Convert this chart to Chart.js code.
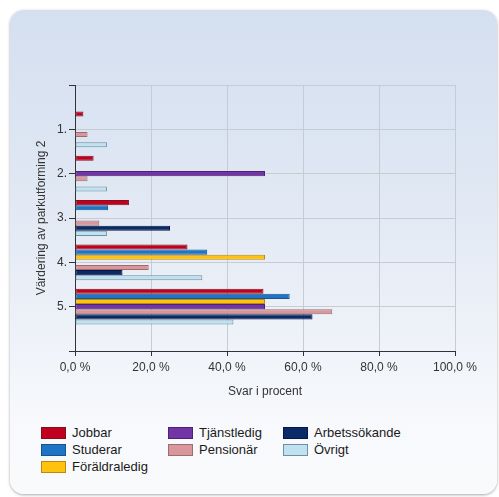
<!DOCTYPE html>
<html><head><meta charset="utf-8">
<script src="https://cdn.jsdelivr.net/npm/chart.js@4"></script>
<style>
html,body{margin:0;padding:0;background:#fff;width:499px;height:497px;overflow:hidden;font-family:"Liberation Sans",Arial,sans-serif;}
#panel{position:absolute;left:10px;top:10px;width:487px;height:484px;border-radius:14px;background:linear-gradient(to bottom,#d4dff0 0%,#dfe7f3 35%,#edf1f8 65%,#f7f9fc 85%,#f9fafc 100%);box-shadow:0 1px 3px rgba(0,0,0,0.35);}
#wrap{position:absolute;left:10px;top:10px;width:487px;height:400px;}
.li{position:absolute;font-size:13px;color:#1a1a1a;white-space:nowrap;line-height:16px;}
.box{position:absolute;width:25px;height:12px;box-sizing:border-box;border:1px solid;}
</style>
</head><body>
<div id="panel"></div>
<div id="wrap"><canvas id="c" width="487" height="400"></canvas></div>
<div id="legend"></div>
<script>
// ---- data ----
const categories = ['1.', '2.', '3.', '4.', '5.'];
const seriesNames = ['Jobbar', 'Studerar', 'Föräldraledig', 'Tjänstledig', 'Pensionär', 'Arbetssökande', 'Övrigt'];
const jobbar        = [2.2, 4.9, 14.2, 29.6, 49.6];
const studerar      = [0, 0, 8.7, 34.8, 56.5];
const foraldraledig = [0, 0, 0, 50.0, 50.0];
const tjanstledig   = [0, 50.0, 0, 0, 50.0];
const pensionar     = [3.3, 3.3, 6.4, 19.4, 67.7];
const arbetssokande = [0, 0, 25.0, 12.5, 62.5];
const ovrigt        = [8.4, 8.4, 8.4, 33.5, 41.7];
const xTicks = [0, 20, 40, 60, 80, 100];

const seriesValues = [jobbar, studerar, foraldraledig, tjanstledig, pensionar, arbetssokande, ovrigt];
const fills   = ['#c0001e', '#1f74c6', '#ffc20e', '#7135a6', '#d9979b', '#0b2a68', '#bfe1f0'];
const borders = ['#80101c', '#17558f', '#b88a10', '#4d2275', '#9c6c70', '#06183f', '#6f8fa2'];

const labels = ['', ...categories, ''];
const pad = arr => [null, ...arr, null];

const gridColor = '#c6ccd5';
const axisColor = '#333';
const font = {family: '"Liberation Sans", Arial, sans-serif', size: 12};

const chart = new Chart(document.getElementById('c'), {
  type: 'bar',
  data: {
    labels,
    datasets: seriesNames.map((n, i) => ({
      label: n,
      data: pad(seriesValues[i]),
      backgroundColor: fills[i],
      borderColor: borders[i],
      borderWidth: 1,
      borderSkipped: false,
      categoryPercentage: 0.81,
      barPercentage: 1.0
    }))
  },
  options: {
    indexAxis: 'y',
    responsive: false,
    animation: false,
    layout: {padding: {left: 24, top: 75, right: 42, bottom: 0}},
    plugins: {legend: {display: false}, tooltip: {enabled: false}},
    scales: {
      x: {
        min: 0, max: 100,
        afterBuildTicks: s => { s.ticks = xTicks.map(v => ({value: v})); },
        ticks: {font, color: axisColor, padding: 4, maxRotation: 0,
          callback: v => v.toFixed(1).replace('.', ',') + ' %'},
        grid: {color: gridColor, tickColor: axisColor, tickLength: 5},
        border: {color: axisColor},
        title: {display: true, text: 'Svar i procent', font, color: axisColor, padding: {top: 0, bottom: 11}},
        afterFit: s => { s.height = 59; }
      },
      y: {
        offset: false,
        ticks: {font, color: axisColor, padding: 2, autoSkip: false},
        grid: {color: gridColor, tickColor: axisColor, tickLength: 6, offset: false},
        border: {color: axisColor},
        title: {display: true, text: 'Värdering av parkutforming 2', font, color: axisColor, padding: 0},
        afterFit: s => { s.width = 41; }
      }
    }
  }
});

// ---- HTML legend (column-major, 3 columns) ----
const legendCol = [0, 0, 0, 1, 1, 2, 2];
const legendRow = [0, 1, 2, 0, 1, 0, 1];
const colX = [41, 168, 283];
const rowY = [433, 450, 467];
const lg = document.getElementById('legend');
chart.data.datasets.forEach((ds, i) => {
  const x = colX[legendCol[i]], y = rowY[legendRow[i]];
  const b = document.createElement('div');
  b.className = 'box';
  b.style.left = x + 'px'; b.style.top = (y - 6) + 'px';
  b.style.background = ds.backgroundColor; b.style.borderColor = ds.borderColor;
  lg.appendChild(b);
  const t = document.createElement('div');
  t.className = 'li';
  t.style.left = (x + 31) + 'px'; t.style.top = (y - 8) + 'px';
  t.textContent = ds.label;
  lg.appendChild(t);
});
</script>
</body></html>
